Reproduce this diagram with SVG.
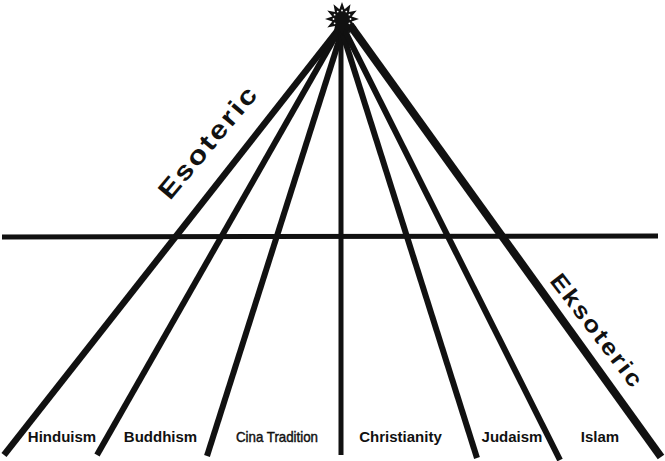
<svg xmlns="http://www.w3.org/2000/svg" width="665" height="461" viewBox="0 0 665 461">
<style>
.ln{stroke:#111;fill:none;stroke-linecap:butt}
.lbl{font-family:"Liberation Sans",Arial,sans-serif;font-weight:bold;font-size:15px;fill:#111;text-anchor:middle}
.lbl2{font-family:"Liberation Sans",Arial,sans-serif;font-weight:normal;font-size:14.5px;fill:#111;stroke:#111;stroke-width:0.45px;text-anchor:middle}
.big{font-family:"Liberation Sans",Arial,sans-serif;font-weight:bold;fill:#111;letter-spacing:2px}
</style>
<rect width="665" height="461" fill="#fff"/>
<g id="connectors">
<line class="ln" x1="342" y1="25" x2="4" y2="455" stroke-width="6.5"/>
<line class="ln" x1="342" y1="25" x2="97" y2="455" stroke-width="6"/>
<line class="ln" x1="344" y1="25" x2="207" y2="456" stroke-width="6"/>
<line class="ln" x1="341" y1="25" x2="341" y2="455" stroke-width="5"/>
<line class="ln" x1="340" y1="25" x2="477" y2="458" stroke-width="6"/>
<line class="ln" x1="342" y1="25" x2="560" y2="460" stroke-width="6"/>
<line class="ln" x1="350" y1="25" x2="661" y2="457" stroke-width="8"/>
<line class="ln" x1="2" y1="237" x2="658" y2="236" stroke-width="5"/>
</g>
<g id="star">
<polygon fill="#111" points="342,2 344.59,9.34 350.5,4.28 349.07,11.93 356.72,10.5 351.66,16.41 359,19 351.66,21.59 356.72,27.5 349.07,26.07 350.5,33.72 344.59,28.66 342,36 339.41,28.66 333.5,33.72 334.93,26.07 327.28,27.5 332.34,21.59 325,19 332.34,16.41 327.28,10.5 334.93,11.93 333.5,4.28 339.41,9.34"/>
<g fill="#fff">
<circle cx="342" cy="10.5" r="0.9"/>
<circle cx="337.7" cy="11.6" r="0.9"/>
<circle cx="346.3" cy="11.6" r="0.9"/>
<circle cx="334.6" cy="14.7" r="0.9"/>
<circle cx="349.4" cy="14.7" r="0.9"/>
<circle cx="333.5" cy="19" r="0.9"/>
<circle cx="350.5" cy="19" r="0.9"/>
<circle cx="334.6" cy="23.3" r="0.9"/>
<circle cx="349.4" cy="23.3" r="0.9"/>
</g>
</g>
<g id="esoteric">
<text class="big" style="font-size:26px" x="170" y="201" transform="rotate(-50 170 201)" textLength="140" lengthAdjust="spacingAndGlyphs">Esoteric</text>
</g>
<g id="eksoteric">
<text class="big" style="font-size:23px" x="549" y="281" transform="rotate(52.5 549 281)" textLength="138" lengthAdjust="spacingAndGlyphs">Eksoteric</text>
</g>
<g id="hinduism"><text class="lbl" x="62" y="442">Hinduism</text></g>
<g id="buddhism"><text class="lbl" x="160.5" y="442">Buddhism</text></g>
<g id="cina"><text class="lbl2" x="277" y="442" textLength="82" lengthAdjust="spacingAndGlyphs">Cina Tradition</text></g>
<g id="christianity"><text class="lbl" x="400.5" y="442">Christianity</text></g>
<g id="judaism"><text class="lbl" x="512" y="442">Judaism</text></g>
<g id="islam"><text class="lbl" x="600" y="442">Islam</text></g>
</svg>
